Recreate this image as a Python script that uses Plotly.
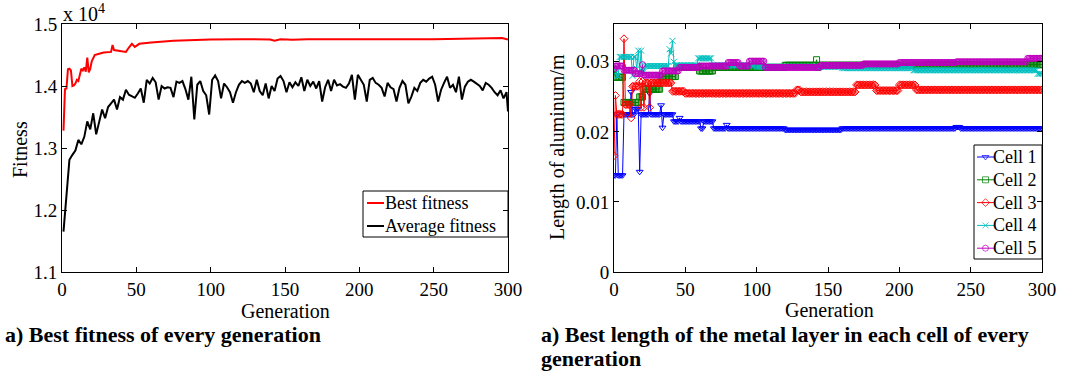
import numpy as np
import plotly.graph_objects as go

# ---------------- data ----------------
# Left chart: fitness (units of 1e4)
BEST_GEN = [1, 2, 3, 4, 5, 6, 7, 8, 9, 10, 11, 12, 13, 14, 15, 16, 17, 18, 19, 20, 22, 25, 28, 33, 34, 35,
            40, 43, 45, 47, 49, 52, 60, 75, 90, 100, 120, 140, 143, 147, 155, 165, 200, 250, 296, 300]
BEST_FIT = [1.328, 1.395, 1.396, 1.427, 1.428, 1.425, 1.400, 1.401, 1.404, 1.410, 1.408, 1.418, 1.428, 1.425,
            1.430, 1.423, 1.446, 1.422, 1.428, 1.440, 1.450, 1.452, 1.454, 1.455, 1.466, 1.458,
            1.456, 1.455, 1.462, 1.468, 1.463, 1.468, 1.470, 1.473, 1.474, 1.475, 1.4755, 1.475, 1.473,
            1.4755, 1.4745, 1.4755, 1.4755, 1.4755, 1.4775, 1.475]

AVG_GEN = list(range(1, 300, 2)) + [300]
AVG_FIT = [1.165, 1.225, 1.281, 1.289, 1.296, 1.313, 1.306, 1.318, 1.343, 1.330,
           1.356, 1.322, 1.340, 1.362, 1.348, 1.366, 1.372, 1.378, 1.362, 1.382,
           1.378, 1.394, 1.386, 1.383, 1.381, 1.388, 1.396, 1.373, 1.410, 1.404,
           1.413, 1.406, 1.378, 1.400, 1.396, 1.398, 1.397, 1.382, 1.407, 1.405,
           1.408, 1.395, 1.378, 1.415, 1.346, 1.402, 1.408, 1.392, 1.385, 1.354,
           1.410, 1.417, 1.408, 1.380, 1.404, 1.398, 1.390, 1.373, 1.390, 1.402,
           1.408, 1.405, 1.408, 1.404, 1.390, 1.410, 1.392, 1.385, 1.404, 1.380,
           1.400, 1.392, 1.412, 1.416, 1.408, 1.390, 1.406, 1.398, 1.406, 1.400,
           1.414, 1.392, 1.410, 1.400, 1.407, 1.396, 1.408, 1.375, 1.398, 1.410,
           1.392, 1.410, 1.401, 1.403, 1.399, 1.397, 1.404, 1.418, 1.378, 1.418,
           1.410, 1.402, 1.375, 1.410, 1.413, 1.405, 1.402, 1.397, 1.383, 1.405,
           1.398, 1.395, 1.375, 1.397, 1.408, 1.402, 1.372, 1.383, 1.397, 1.392,
           1.405, 1.410, 1.407, 1.412, 1.415, 1.402, 1.375, 1.394, 1.405, 1.415,
           1.397, 1.402, 1.390, 1.415, 1.378, 1.399, 1.407, 1.410, 1.407, 1.404,
           1.400, 1.393, 1.405, 1.402, 1.397, 1.390, 1.385, 1.393, 1.380, 1.390,
           1.359]

# Right chart: best length of aluminium per cell, as runs (start generation, value)
GENERATIONS = list(range(0, 301))
CELL1_START = [0, 2, 3, 7, 12, 13, 15, 18, 19, 25, 26, 33, 34, 35, 42, 46, 47, 61, 63, 70, 79, 80, 120, 160, 240, 243]
CELL1_VAL = [0.0138, 0.0225, 0.0138, 0.0225, 0.0257, 0.0225, 0.0233, 0.0143, 0.0225, 0.0255, 0.0225, 0.0238,
             0.0206, 0.0225, 0.0215, 0.0220, 0.0215, 0.0205, 0.0215, 0.0205, 0.0210, 0.0205, 0.0203, 0.0205,
             0.0207, 0.0205]
CELL2_START = [0, 1, 7, 18, 21, 33, 44, 60, 70, 120, 142, 143, 144, 160, 220]
CELL2_VAL = [0.0289, 0.0278, 0.0242, 0.0250, 0.0261, 0.0279, 0.0292, 0.0287, 0.0292, 0.0295, 0.0303, 0.0292,
             0.0295, 0.0295, 0.0296]
CELL3_START = [0, 1, 2, 7, 8, 12, 13, 18, 19, 20, 21, 22, 25, 26, 41, 50, 128, 131, 170, 184, 200, 212]
CELL3_VAL = [0.0166, 0.0252, 0.0225, 0.0333, 0.0239, 0.0220, 0.0265, 0.0272, 0.0235, 0.0272, 0.0235, 0.0270,
             0.0235, 0.0270, 0.0258, 0.0255, 0.0260, 0.0257, 0.0267, 0.0259, 0.0267, 0.0260]
CELL4_START = [0, 2, 4, 13, 14, 16, 17, 18, 19, 20, 22, 39, 40, 41, 42, 43, 59, 69, 100, 160, 210, 297]
CELL4_VAL = [0.0290, 0.0280, 0.0307, 0.0280, 0.0307, 0.0290, 0.0316, 0.0286, 0.0316, 0.0286, 0.0294, 0.0318,
             0.0312, 0.0330, 0.0300, 0.0295, 0.0305, 0.0295, 0.0293, 0.0291, 0.0288, 0.0283]
CELL5_START = [0, 1, 7, 15, 20, 21, 34, 46, 60, 80, 88, 95, 106, 145, 175, 200, 240, 290]
CELL5_VAL = [0.0290, 0.0294, 0.0288, 0.0283, 0.0296, 0.0281, 0.0287, 0.0292, 0.0294, 0.0299, 0.0294, 0.0301,
             0.0292, 0.0295, 0.0297, 0.0299, 0.0300, 0.0305]

CELL_NAMES = ["Cell 1", "Cell 2", "Cell 3", "Cell 4", "Cell 5"]
FIT_NAMES = ["Best fitness", "Average fitness"]
LEFT_YTICKS = [1.1, 1.2, 1.3, 1.4, 1.5]
RIGHT_YTICKS = [0, 0.01, 0.02, 0.03]
XTICKS = [0, 50, 100, 150, 200, 250, 300]


def expand(starts, vals, n):
    starts = list(starts) + [n]
    counts = np.diff(starts)
    return np.repeat(vals, counts)


N = len(GENERATIONS)
cells = [expand(s, v, N) for s, v in [(CELL1_START, CELL1_VAL), (CELL2_START, CELL2_VAL),
                                       (CELL3_START, CELL3_VAL), (CELL4_START, CELL4_VAL),
                                       (CELL5_START, CELL5_VAL)]]

# ---------------- figure ----------------
W, H = 1084, 374
FONT = "Liberation Serif, Times New Roman, serif"

def px(x):
    return x / W

def py(y):
    return 1 - y / H

fig = go.Figure()

fit_colors = ["#FF0000", "#000000"]
fig.add_trace(go.Scatter(x=BEST_GEN, y=BEST_FIT, mode="lines", name=FIT_NAMES[0],
                         line=dict(color=fit_colors[0], width=2), xaxis="x", yaxis="y", showlegend=False))
fig.add_trace(go.Scatter(x=AVG_GEN, y=AVG_FIT, mode="lines", name=FIT_NAMES[1],
                         line=dict(color=fit_colors[1], width=2), xaxis="x", yaxis="y", showlegend=False))

colors = ["#0000FF", "#008000", "#FF0000", "#00BFBF", "#BF00BF"]
symbols = ["triangle-down-open", "square-open", "diamond-open", "x-thin-open", "circle-open"]
for name, vals, c, s in zip(CELL_NAMES, cells, colors, symbols):
    fig.add_trace(go.Scatter(x=GENERATIONS, y=vals, mode="lines+markers", name=name,
                             line=dict(color=c, width=1),
                             marker=dict(symbol=s, size=6, color=c, line=dict(color=c, width=1)),
                             xaxis="x2", yaxis="y2", showlegend=False))

# ---- manual legends drawn on an overlay axis in pixel units ----
shapes = []
annotations = []
leg_font = dict(family=FONT, size=18, color="black")
box_style = dict(type="rect", xref="paper", yref="paper", line=dict(color="black", width=1),
                 fillcolor="rgba(0,0,0,0)", layer="above")

# left legend
shapes.append(dict(box_style, x0=px(363), x1=px(508), y0=py(237), y1=py(191)))
for i, (nm, c) in enumerate(zip(FIT_NAMES, fit_colors)):
    yc = 203 + i * 23
    fig.add_trace(go.Scatter(x=[367, 384], y=[yc, yc], mode="lines", line=dict(color=c, width=2),
                             xaxis="x3", yaxis="y3", showlegend=False, hoverinfo="skip"))
    annotations.append(dict(text=nm, x=px(383), y=py(yc), xanchor="left", yanchor="middle", font=leg_font))

# right legend
shapes.append(dict(box_style, x0=px(974), x1=px(1042), y0=py(259), y1=py(145)))
for i, (nm, c, s) in enumerate(zip(CELL_NAMES, colors, symbols)):
    yc = 157 + i * 22.8
    fig.add_trace(go.Scatter(x=[977, 985.5, 994], y=[yc, yc, yc], mode="lines+markers",
                             line=dict(color=c, width=1),
                             marker=dict(symbol=s, size=[0, 6, 0], color=c, line=dict(color=c, width=1)),
                             xaxis="x3", yaxis="y3", showlegend=False, hoverinfo="skip"))
    annotations.append(dict(text=nm, x=px(991), y=py(yc), xanchor="left", yanchor="middle", font=leg_font))

axis_common = dict(showline=True, linecolor="black", linewidth=1, mirror="ticks", ticks="inside",
                   ticklen=5, tickcolor="black", showgrid=False, zeroline=False, automargin=False,
                   tickfont=dict(family=FONT, size=19, color="black"))

ydom = [py(272), py(24)]
fig.update_layout(
    template="none",
    width=W, height=H,
    margin=dict(l=0, r=0, t=0, b=0, autoexpand=False),
    paper_bgcolor="white", plot_bgcolor="rgba(0,0,0,0)",
    font=dict(family=FONT, size=18, color="black"),
    showlegend=False,
    xaxis=dict(domain=[px(62), px(508)], range=[0, 300], tickvals=XTICKS, anchor="y", **axis_common),
    yaxis=dict(domain=ydom, range=[1.1, 1.5], tickvals=LEFT_YTICKS,
               ticktext=[f"{v:.1f}" for v in LEFT_YTICKS], anchor="x", **axis_common),
    xaxis2=dict(domain=[px(614), px(1042)], range=[0, 300], tickvals=XTICKS, anchor="y2", **axis_common),
    yaxis2=dict(domain=ydom, range=[0, 0.0354], tickvals=RIGHT_YTICKS,
                ticktext=["0", "0.01", "0.02", "0.03"], anchor="x2", **axis_common),
    xaxis3=dict(domain=[0, 1], range=[0, W], visible=False, fixedrange=True, anchor="y3"),
    yaxis3=dict(domain=[0, 1], range=[H, 0], visible=False, fixedrange=True, anchor="x3"),
)

ann_font = dict(family=FONT, size=20, color="black")
annotations += [
    dict(text="x 10<sup>4</sup>", x=px(61), y=py(13), xanchor="left", yanchor="middle", font=ann_font),
    dict(text="Fitness", x=px(20), y=py(150), textangle=-90, xanchor="center", yanchor="middle", font=ann_font),
    dict(text="Generation", x=px(285), y=py(311), xanchor="center", yanchor="middle", font=ann_font),
    dict(text="Length of aluminum/m", x=px(557), y=py(147), textangle=-90, xanchor="center",
         yanchor="middle", font=ann_font),
    dict(text="Generation", x=px(829), y=py(310), xanchor="center", yanchor="middle", font=ann_font),
]
cap_font = dict(family=FONT, size=22, color="black")
annotations += [
    dict(text="<b>a) Best fitness of every generation</b>", x=px(3), y=py(334), xanchor="left",
         yanchor="middle", font=cap_font),
    dict(text="<b>a) Best length of the metal layer in each cell of every</b>", x=px(539), y=py(334),
         xanchor="left", yanchor="middle", font=cap_font),
    dict(text="<b>generation</b>", x=px(539), y=py(358), xanchor="left", yanchor="middle", font=cap_font),
]
for a in annotations:
    fig.add_annotation(xref="paper", yref="paper", showarrow=False, **a)
for s in shapes:
    fig.add_shape(**s)

fig.write_html("out.html")
